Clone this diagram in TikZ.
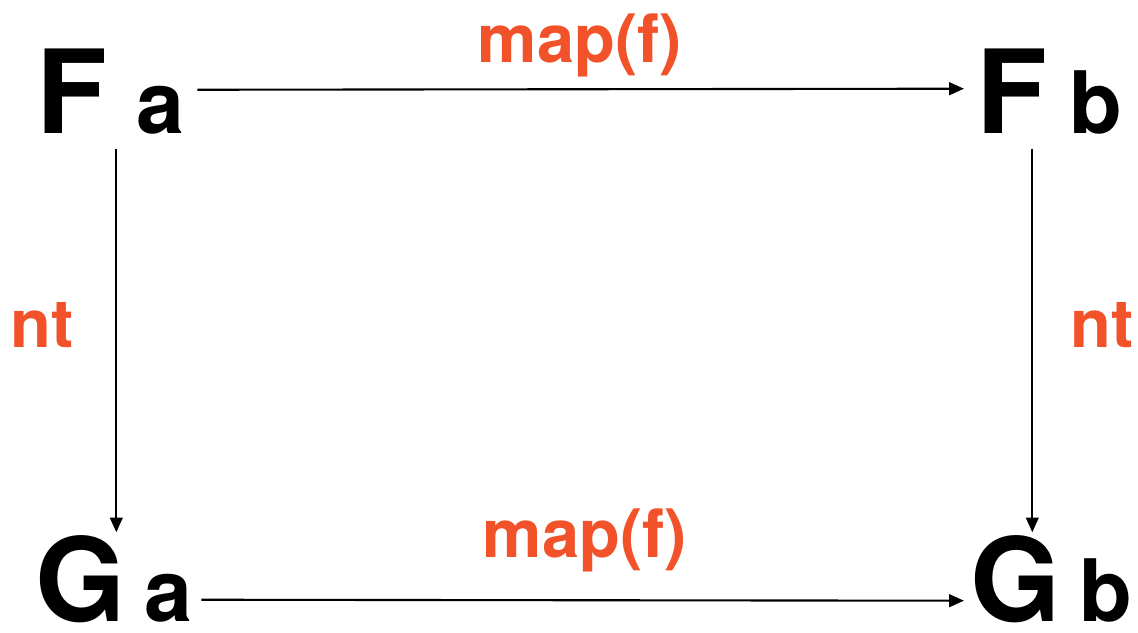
\documentclass[tikz,border=0pt]{standalone}
\usepackage{fontspec}
\setmainfont{TeX Gyre Heros}
\usepackage{xcolor}
\usetikzlibrary{arrows.meta, positioning, calc}
\definecolor{mapred}{RGB}{242,82,42}

\begin{document}
\begin{tikzpicture}[
    x=0.01cm, y=-0.01cm,
    big/.style={inner sep=0pt, anchor=base west, font=\fontsize{33}{33}\selectfont\bfseries},
    small/.style={inner sep=0pt, anchor=base west, font=\fontsize{24.5}{24.5}\selectfont\bfseries},
    lbl/.style={inner sep=0pt, text=mapred, font=\fontsize{19}{19}\selectfont\bfseries},
    arrow/.style={-{Triangle[length=4.2pt, width=3.6pt]}, line width=0.6pt},
  ]
    \useasboundingbox (0,0) rectangle (1138,632);

    % Top row
    \node[big] (fF) at (36,133) {F};
    \node[small] (fa) at (136,133) {a};
    \node[big] (fF2) at (976,133) {F};
    \node[small] (fb) at (1069,133) {b};

    % Bottom row
    \node[big] (gG) at (35,621) {G};
    \node[small] (ga) at (144,621) {a};
    \node[big] (gG2) at (970,621) {G};
    \node[small] (gb) at (1079,621) {b};

    % Labels
    \node[lbl] (mapTop) at (580,45) {map(f)};
    \node[lbl] (mapBot) at (585,540) {map(f)};
    \node[lbl] (ntLeft) at (42,325) {nt};
    \node[lbl] (ntRight) at (1102,325) {nt};

    % Arrows
    \draw[arrow] ($(fa.east)+(12,-20)$) -- ($(fF2.west)+(-12,-2)$);
    \draw[arrow] ($(ga.east)+(8,2)$) -- ($(gG2.west)+(-6,22)$);
    \draw[arrow] ($(fF.south east)+(8,15)$) -- ($(fF.south east |- gG.north)+(8,-2)$);
    \draw[arrow] ($(fF2.south east)+(-16,15)$) -- ($(fF2.south east |- gG2.north)+(-16,-2)$);
  \end{tikzpicture}
\end{document}
